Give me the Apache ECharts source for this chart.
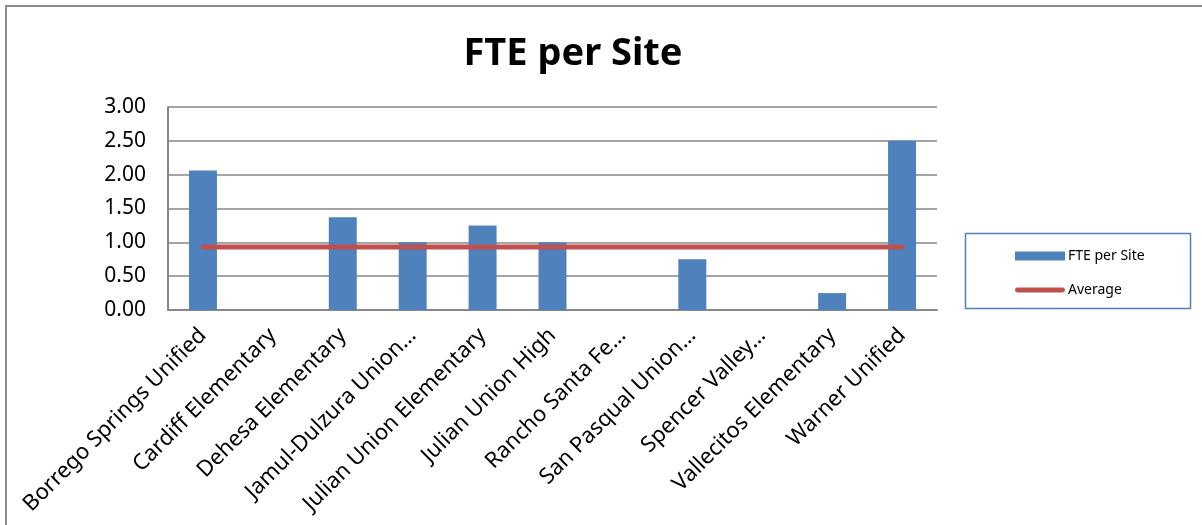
<!DOCTYPE html>
<html>
<head>
<meta charset="utf-8">
<script src="https://cdn.jsdelivr.net/npm/echarts@6/dist/echarts.min.js"></script>
<style>
  html, body { margin: 0; padding: 0; background: #fff; }
  #chart { width: 1202px; height: 525px; }
</style>
</head>
<body>
<div id="chart"></div>
<script>
// districts as they show on the axis (long ones are cut off in the original)
var sites = [
  'Borrego Springs Unified',
  'Cardiff Elementary',
  'Dehesa Elementary',
  'Jamul-Dulzura Union…',
  'Julian Union Elementary',
  'Julian Union High',
  'Rancho Santa Fe…',
  'San Pasqual Union…',
  'Spencer Valley…',
  'Vallecitos Elementary',
  'Warner Unified'
];
var ftePerSite = [2.06, 0, 1.37, 1.00, 1.25, 1.00, 0, 0.75, 0, 0.25, 2.50];
var average = [0.93, 0.93, 0.93, 0.93, 0.93, 0.93, 0.93, 0.93, 0.93, 0.93, 0.93];
var yTicks = { min: 0, max: 3, step: 0.5 };

var font = '"Noto Sans", "Open Sans", sans-serif';
var chart = echarts.init(document.getElementById('chart'));

chart.setOption({
  backgroundColor: '#fff',
  animation: false,
  title: {
    text: 'FTE per Site',
    left: 568,
    top: 30,
    textAlign: 'center',
    textStyle: { fontFamily: font, fontSize: 38, fontWeight: 'bold', color: '#000' }
  },
  grid: { left: 168, right: 265, top: 107, bottom: 215 },
  legend: {
    orient: 'vertical',
    left: 1010,
    top: 244,
    itemWidth: 50,
    itemHeight: 9,
    itemGap: 20,
    textStyle: { fontFamily: font, fontSize: 14, color: '#000', padding: [0, 0, 0, -2] },
    data: [
      { name: 'FTE per Site', icon: 'rect' },
      { name: 'Average', icon: 'path://M2.5,0 L49.5,0 A2.5,2.5 0 0 1 49.5,5 L2.5,5 A2.5,2.5 0 0 1 2.5,0 Z' }
    ]
  },
  xAxis: {
    type: 'category',
    data: sites,
    axisLine: { lineStyle: { color: '#878787', width: 2 } },
    axisTick: { show: false },
    axisLabel: {
      interval: 0,
      rotate: 45,
      margin: 22,
      fontFamily: font,
      fontSize: 22,
      color: '#000'
    }
  },
  yAxis: {
    type: 'value',
    min: yTicks.min,
    max: yTicks.max,
    interval: yTicks.step,
    axisLine: { show: true, lineStyle: { color: '#878787', width: 2 } },
    axisTick: { show: false },
    splitLine: { lineStyle: { color: '#878787', width: 1.5 } },
    axisLabel: {
      margin: 22,
      fontFamily: font,
      fontSize: 21,
      color: '#000',
      formatter: function (v) { return v.toFixed(2); }
    }
  },
  series: [
    {
      name: 'FTE per Site',
      type: 'bar',
      data: ftePerSite,
      barWidth: '40%',
      itemStyle: { color: '#4F81BD' }
    },
    {
      name: 'Average',
      type: 'line',
      data: average,
      symbol: 'none',
      lineStyle: { color: '#C0504D', width: 5, cap: 'round' },
      itemStyle: { color: '#C0504D' }
    }
  ],
  graphic: [
    // outer chart frame (top and left edges visible)
    { type: 'polyline', shape: { points: [[6, 525], [6, 6], [1202, 6]] },
      style: { stroke: '#8c8c8c', lineWidth: 2, fill: null } },
    // legend box
    { type: 'rect', shape: { x: 965.5, y: 233.5, width: 225, height: 75 },
      style: { stroke: '#4F81BD', lineWidth: 1.5, fill: null } }
  ]
});
</script>
</body>
</html>
